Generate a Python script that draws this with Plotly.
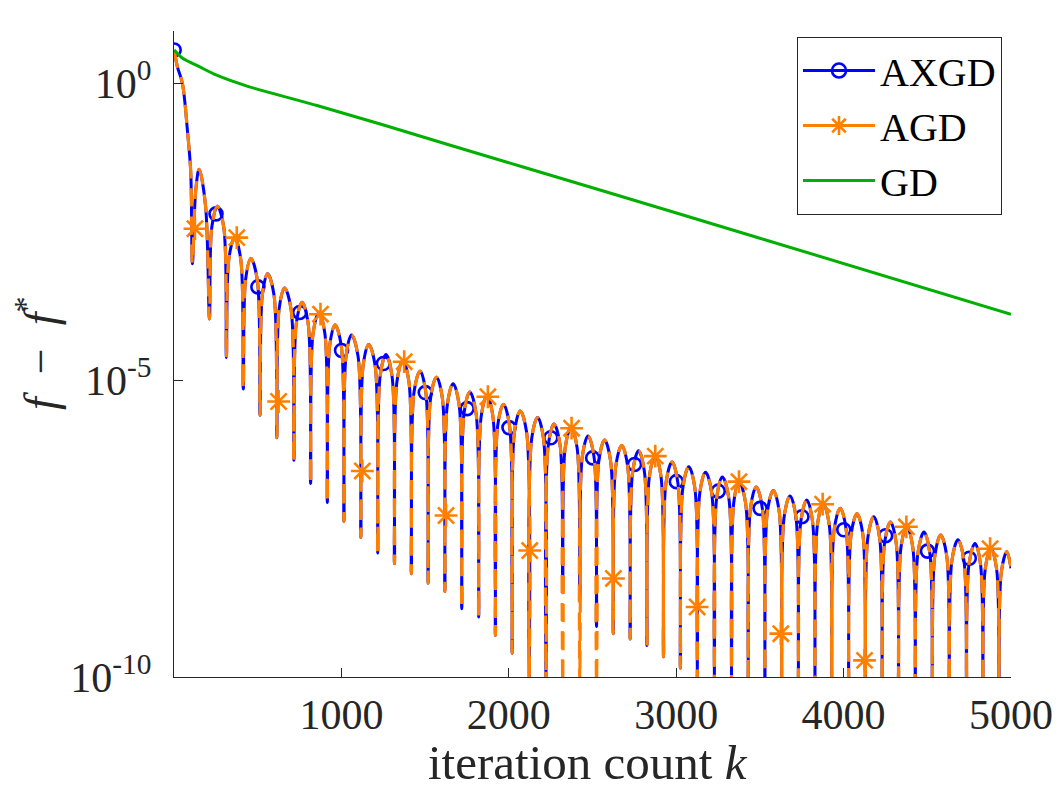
import numpy as np
import plotly.graph_objects as go

# ---------------- data (log10 of f - f*) ----------------
# start of the accelerated curves (before the first dip)
init_k = [1, 20, 50, 80, 100]
init_log = [0.56, 0.28, 0.0, -0.79, -1.5]

# dips (troughs) of the oscillation; values below -10 are cut by the axis
trough_k = [110, 212, 313, 414, 514, 614, 716, 816, 916, 1015,
            1116, 1217, 1317, 1418, 1518, 1618, 1719, 1820, 1920, 2020,
            2122, 2222, 2322, 2424, 2524, 2624, 2725, 2825, 2924, 3025,
            3126, 3228, 3330, 3430, 3530, 3630, 3730, 3829, 3929, 4030,
            4130, 4230, 4328, 4428, 4530, 4631, 4734, 4832, 4928]
axgd_trough_log = [-3.04, -3.97, -4.62, -5.15, -5.59, -5.97, -6.35, -6.74, -7.06, -7.38,
                   -7.65, -7.91, -8.09, -8.26, -8.42, -8.56, -8.85, -8.99, -9.30, -9.60,
                   -10.6, -10.6, -8.58, -8.66, -9.15, -9.27, -9.36, -9.47, -9.66, -9.85,
                   -10.5, -10.6, -10.6, -10.4, -10.4, -10.5, -10.5, -10.6, -10.5, -10.5,
                   -10.4, -10.6, -10.5, -10.6, -10.5, -10.6, -10.5, -10.6, -10.5]
agd_trough_log = [-3.04, -3.97, -4.62, -5.15, -5.59, -5.97, -6.35, -6.74, -7.06, -7.38,
                  -7.65, -7.91, -8.09, -8.26, -8.42, -8.56, -8.85, -8.99, -9.30, -9.60,
                  -10.6, -10.6, -10.8, -10.8, -10.8, -9.27, -9.36, -9.47, -9.66, -9.85,
                  -10.5, -10.6, -10.6, -10.4, -10.4, -10.5, -10.5, -10.6, -10.5, -10.5,
                  -10.4, -10.6, -10.5, -10.6, -10.5, -10.6, -10.5, -10.6, -10.5]

# points on the rising side just below each hump top (both curves coincide there)
rise_k = [130, 226, 328, 428, 528, 628, 731, 831, 930, 1028,
          1130, 1232, 1332, 1434, 1533, 1633, 1733, 1835, 1934, 2034,
          2137, 2236, 2337, 2439, 2538, 2639, 2740, 2840, 2939, 3040,
          3141, 3242, 3344, 3444, 3545, 3645, 3745, 3844, 3944, 4045,
          4145, 4245, 4343, 4444, 4545, 4647, 4749, 4846, 4942]
rise_log = [-1.80, -2.42, -2.95, -3.30, -3.56, -3.80, -4.04, -4.21, -4.42, -4.59,
            -4.75, -4.92, -5.02, -5.20, -5.30, -5.41, -5.55, -5.61, -5.76, -5.87,
            -5.98, -6.09, -6.14, -6.29, -6.36, -6.45, -6.54, -6.62, -6.73, -6.81,
            -6.90, -6.98, -7.06, -7.15, -7.21, -7.30, -7.37, -7.43, -7.51, -7.60,
            -7.65, -7.74, -7.81, -7.91, -7.96, -8.04, -8.10, -8.18, -8.24]

# hump tops (upper envelope)
peak_k = [150, 259, 362, 459, 559, 660, 765, 866, 962, 1060,
          1163, 1266, 1367, 1470, 1568, 1667, 1767, 1870, 1968, 2068,
          2172, 2270, 2372, 2473, 2572, 2675, 2775, 2875, 2975, 3075,
          3175, 3275, 3375, 3478, 3580, 3680, 3780, 3878, 3980, 4080,
          4180, 4280, 4377, 4480, 4580, 4683, 4785, 4880, 4975]
peak_log = [-1.45, -2.07, -2.60, -2.95, -3.21, -3.45, -3.69, -3.86, -4.07, -4.24,
            -4.40, -4.57, -4.67, -4.85, -4.95, -5.06, -5.20, -5.26, -5.41, -5.52,
            -5.63, -5.74, -5.79, -5.94, -6.01, -6.10, -6.19, -6.27, -6.38, -6.46,
            -6.55, -6.63, -6.71, -6.80, -6.86, -6.95, -7.02, -7.08, -7.16, -7.25,
            -7.30, -7.39, -7.46, -7.56, -7.61, -7.69, -7.75, -7.83, -7.89]

# points on the falling side just below each hump top
fall_k = [188, 297, 398, 497, 597, 699, 801, 901, 999, 1099,
          1201, 1302, 1403, 1504, 1603, 1703, 1804, 1905, 2004, 2106,
          2207, 2306, 2408, 2509, 2608, 2710, 2810, 2909, 3010, 3111,
          3212, 3314, 3414, 3514, 3615, 3715, 3814, 3914, 4015, 4115,
          4215, 4314, 4413, 4515, 4616, 4719, 4818, 4914]
fall_log = [-2.05, -2.42, -2.95, -3.30, -3.56, -3.80, -4.04, -4.21, -4.42, -4.59,
            -4.75, -4.92, -5.02, -5.20, -5.30, -5.41, -5.55, -5.61, -5.76, -5.87,
            -5.98, -6.09, -6.14, -6.29, -6.36, -6.45, -6.54, -6.62, -6.73, -6.81,
            -6.90, -6.98, -7.06, -7.15, -7.21, -7.30, -7.37, -7.43, -7.51, -7.60,
            -7.65, -7.74, -7.81, -7.91, -7.96, -8.04, -8.10, -8.18]

end_k = [5000]
end_log = [-8.17]

# marker positions (every 250 iterations)
circle_k = [1, 251, 501, 751, 1001, 1251, 1501, 1751, 2001, 2251,
            2501, 2751, 3001, 3251, 3501, 3751, 4001, 4251, 4501, 4751]
circle_log = [0.56, -2.20, -3.43, -3.86, -4.50, -4.72, -5.21, -5.48, -5.80, -5.97,
              -6.31, -6.42, -6.71, -6.87, -7.16, -7.30, -7.52, -7.62, -7.88, -8.00]
star_k = [125, 375, 625, 875, 1125, 1375, 1625, 1875, 2125, 2375,
          2625, 2875, 3125, 3375, 3625, 3875, 4125, 4375, 4625, 4875]
star_log = [-2.45, -2.60, -5.36, -3.89, -6.53, -4.69, -7.28, -5.28, -7.87, -5.81,
            -8.34, -6.28, -8.82, -6.71, -9.27, -7.09, -9.72, -7.47, -10.4, -7.84]

# plain gradient descent
gd_k = [1, 51, 151, 251, 450, 849, 1247, 1646, 2500, 3500, 5000]
gd_log = [0.56, 0.42, 0.28, 0.14, -0.06, -0.37, -0.70, -1.04, -1.76, -2.61, -3.89]

x_tick_vals = [1000, 2000, 3000, 4000, 5000]
x_tick_text = ["1000", "2000", "3000", "4000", "5000"]
y_tick_vals = [1e-10, 1e-5, 1.0]
y_tick_text = ["10<sup>-10</sup>", "10<sup>-5</sup>", "10<sup>0</sup>"]

names = ["AXGD", "AGD", "GD"]
x_title = "iteration count <i>k</i>"
y_title = "<i>f</i>\u2002\u2212\u2002<i>f</i><sup>*</sup>"

BLUE, ORANGE, GREEN = "#0000FF", "#FF8000", "#00B000"
AX = "#262626"
FONT = "Liberation Serif, Times New Roman, serif"


def build(trough_log):
    ks, ls = list(init_k), list(init_log)
    for i in range(len(peak_k)):
        ks += [trough_k[i], rise_k[i], peak_k[i]]
        ls += [trough_log[i], rise_log[i], peak_log[i]]
        if i < len(fall_k):
            ks.append(fall_k[i])
            ls.append(fall_log[i])
    ks += end_k
    ls += end_log
    return ks, np.power(10.0, ls)


axgd_x, axgd_y = build(axgd_trough_log)
agd_x, agd_y = build(agd_trough_log)

fig = go.Figure()
fig.add_trace(go.Scatter(x=axgd_x, y=axgd_y, mode="lines", showlegend=False,
                         line=dict(color=BLUE, width=3, shape="spline", smoothing=1)))
fig.add_trace(go.Scatter(x=circle_k, y=np.power(10.0, circle_log), mode="markers", showlegend=False,
                         marker=dict(symbol="circle-open", size=13, color=BLUE,
                                     line=dict(width=2.6, color=BLUE))))
fig.add_trace(go.Scatter(x=agd_x, y=agd_y, mode="lines", showlegend=False,
                         line=dict(color=ORANGE, width=3.2, dash="18px,10px",
                                   shape="spline", smoothing=1)))
fig.add_trace(go.Scatter(x=star_k, y=np.power(10.0, star_log), mode="markers", showlegend=False,
                         marker=dict(symbol="asterisk-open", size=19, color=ORANGE,
                                     line=dict(width=2.6, color=ORANGE))))
fig.add_trace(go.Scatter(x=gd_k, y=np.power(10.0, gd_log), mode="lines", showlegend=False,
                         line=dict(color=GREEN, width=3, shape="spline", smoothing=0.6)))

# legend entries
fig.add_trace(go.Scatter(x=[None], y=[None], mode="lines+markers", name=names[0],
                         line=dict(color=BLUE, width=3),
                         marker=dict(symbol="circle-open", size=14, color=BLUE,
                                     line=dict(width=2.6, color=BLUE))))
fig.add_trace(go.Scatter(x=[None], y=[None], mode="lines+markers", name=names[1],
                         line=dict(color=ORANGE, width=3),
                         marker=dict(symbol="asterisk-open", size=16, color=ORANGE,
                                     line=dict(width=2.6, color=ORANGE))))
fig.add_trace(go.Scatter(x=[None], y=[None], mode="lines", name=names[2],
                         line=dict(color=GREEN, width=3)))

# the page adds an 8 px body margin, so margins are reduced by 8 on the left/top
fig.update_layout(
    width=1062, height=793,
    margin=dict(l=166, r=59, t=23, b=124, autoexpand=False),
    paper_bgcolor="white", plot_bgcolor="white",
    font=dict(family=FONT, size=42, color=AX),
    showlegend=True,
    legend=dict(x=0.989, y=0.991, xanchor="right", yanchor="top",
                bgcolor="white", bordercolor=AX, borderwidth=1.2,
                font=dict(family=FONT, size=40, color="black"),
                itemwidth=72, tracegroupgap=0),
    annotations=[
        dict(text=x_title, xref="paper", yref="paper", x=0.495, y=-0.1325,
             xanchor="center", yanchor="middle", showarrow=False,
             font=dict(family=FONT, size=49, color=AX)),
        dict(text=y_title, xref="paper", yref="paper", x=-0.164, y=0.501,
             xanchor="center", yanchor="middle", showarrow=False, textangle=-90,
             font=dict(family=FONT, size=46, color=AX)),
    ],
)
fig.update_xaxes(
    range=[0, 5000], showline=True, linecolor=AX, linewidth=1.3, mirror=False,
    ticks="inside", ticklen=9, tickwidth=1.3, tickcolor=AX, automargin=False,
    tickmode="array", tickvals=x_tick_vals, ticktext=x_tick_text,
    tickfont=dict(family=FONT, size=42, color=AX),
    ticklabelstandoff=0, showgrid=False, zeroline=False,
)
fig.update_yaxes(
    type="log", range=[-10, 0.88], showline=True, linecolor=AX, linewidth=1.3, mirror=False,
    ticks="inside", ticklen=9, tickwidth=1.3, tickcolor=AX, automargin=False,
    tickmode="array", tickvals=y_tick_vals, ticktext=y_tick_text,
    tickfont=dict(family=FONT, size=42, color=AX),
    ticklabelstandoff=13, showgrid=False, zeroline=False,
)

fig.write_html("out.html")
